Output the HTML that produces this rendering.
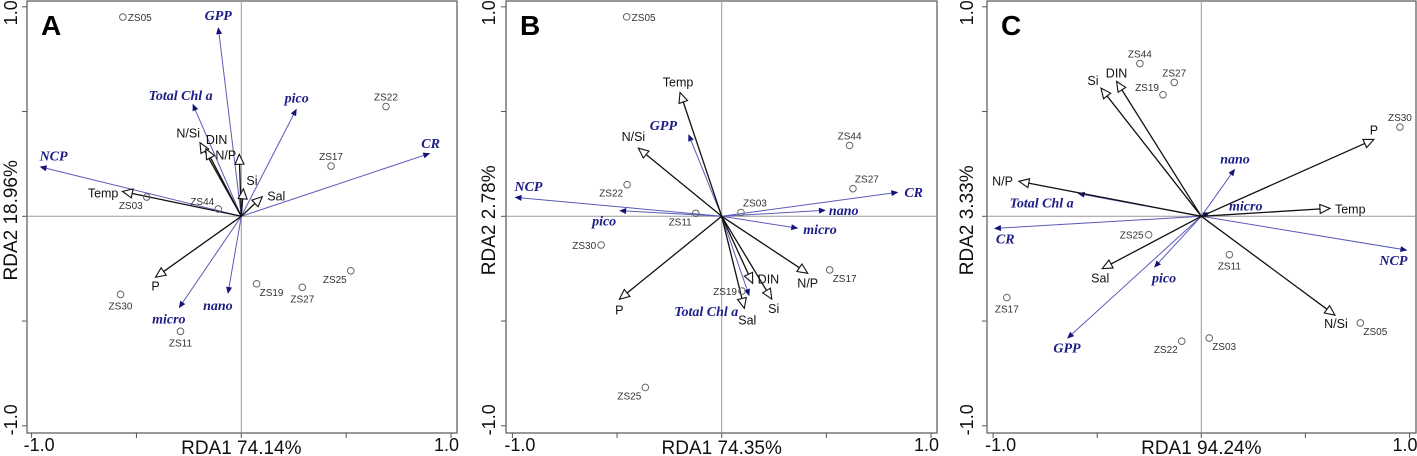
<!DOCTYPE html>
<html><head><meta charset="utf-8">
<style>
html,body{margin:0;padding:0;background:#fff;}
svg{display:block;font-family:"Liberation Sans",Arial,sans-serif;}
.site{font-size:10px;fill:#333;}
.env{font-size:12.5px;fill:#111;}
.sp{font-family:"Liberation Serif",serif;font-style:italic;font-weight:bold;font-size:14px;fill:#1c1c85;}
</style></head>
<body>
<svg id="chart" width="1417" height="456" viewBox="0 0 1417 456"></svg>
<script>
// ---------- Panel A data ----------
const aSiteNames = ["ZS05","ZS22","ZS17","ZS03","ZS44","ZS25","ZS19","ZS27","ZS30","ZS11"];
const aSiteX = [-0.565,0.690,0.428,-0.451,-0.110,0.522,0.073,0.291,-0.576,-0.290];
const aSiteY = [0.951,0.524,0.240,0.092,0.035,-0.260,-0.322,-0.339,-0.373,-0.549];
const aEnvNames = ["Temp","N/Si","DIN","N/P","Si","Sal","P"];
const aEnvX = [-0.567,-0.197,-0.169,-0.010,0.010,0.100,-0.409];
const aEnvY = [0.119,0.352,0.322,0.296,0.131,0.094,-0.291];
const aSpNames = ["GPP","Total Chl a","pico","NCP","CR","micro","nano"];
const aSpX = [-0.110,-0.232,0.264,-0.962,0.901,-0.298,-0.064];
const aSpY = [0.903,0.537,0.514,0.237,0.301,-0.439,-0.371];
// ---------- Panel B data ----------
const bSiteNames = ["ZS05","ZS44","ZS27","ZS22","ZS03","ZS11","ZS30","ZS17","ZS19","ZS25"];
const bSiteX = [-0.454,0.611,0.627,-0.452,0.092,-0.124,-0.576,0.516,0.097,-0.365];
const bSiteY = [0.952,0.338,0.132,0.151,0.018,0.014,-0.137,-0.256,-0.357,-0.817];
const bEnvNames = ["Temp","N/Si","P","Sal","Si","DIN","N/P"];
const bEnvX = [-0.199,-0.398,-0.489,0.108,0.239,0.148,0.411];
const bEnvY = [0.591,0.325,-0.396,-0.439,-0.395,-0.320,-0.272];
const bSpNames = ["GPP","NCP","pico","CR","nano","micro","Total Chl a"];
const bSpX = [-0.159,-0.990,-0.490,0.844,0.498,0.366,0.132];
const bSpY = [0.392,0.091,0.027,0.115,0.029,-0.057,-0.381];
// ---------- Panel C data ----------
const cSiteNames = ["ZS44","ZS27","ZS19","ZS30","ZS25","ZS11","ZS17","ZS05","ZS22","ZS03"];
const cSiteX = [-0.295,-0.130,-0.184,0.954,-0.253,0.135,-0.934,0.764,-0.094,0.038];
const cSiteY = [0.729,0.639,0.580,0.426,-0.088,-0.183,-0.388,-0.509,-0.596,-0.581];
const cEnvNames = ["Si","DIN","P","N/P","Temp","Sal","N/Si"];
const cEnvX = [-0.482,-0.407,0.829,-0.876,0.618,-0.476,0.642];
const cEnvY = [0.612,0.644,0.367,0.167,0.038,-0.250,-0.472];
const cSpNames = ["nano","Total Chl a","micro","CR","pico","GPP","NCP"];
const cSpX = [0.162,-0.594,0.042,-0.996,-0.227,-0.645,0.990];
const cSpY = [0.227,0.109,0.019,-0.058,-0.245,-0.584,-0.162];

const tickVals = [-1,-0.5,0,0.5,1];

// layout (label offsets relative to arrow tips: dx, dy, anchor)
const aSpLbl=[[0,-7,"m"],[-12,-4,"m"],[0,-6,"m"],[0,-6,"s"],[-9,-5,"s"],[-10,15,"m"],[-10,16,"m"]];
const aEnvLbl=[[-4,6,"e"],[0,-5,"e"],[0,-5,"s"],[-3,5,"e"],[3,-4,"s"],[5,4,"s"],[0,13,"m"]];
const bSpLbl=[[-25,-4,"m"],[0,-6,"s"],[-15,15,"m"],[6,5,"s"],[3,5,"s"],[5,6,"s"],[-11,20,"e"]];
const bEnvLbl=[[-2,-6,"m"],[-5,-7,"m"],[0,15,"m"],[3,16,"m"],[2,14,"m"],[5,0,"s"],[0,14,"m"]];
const cSpLbl=[[0,-5,"m"],[-36,14,"m"],[19,-2,"s"],[2,15,"s"],[10,15,"m"],[0,14,"m"],[0,15,"e"]];
const cEnvLbl=[[-8,-3,"m"],[0,-4,"m"],[0,-5,"m"],[-6,4,"e"],[5,5,"s"],[-2,14,"m"],[1,13,"m"]];

const panels = [
 {id:"a",letter:"A",xl:"RDA1 74.14%",yl:"RDA2 18.96%",fl:27,fr:457,cx:241.3,sx:209.7,ylx:14,
  sn:aSiteNames,sxv:aSiteX,syv:aSiteY,en:aEnvNames,ex:aEnvX,ey:aEnvY,pn:aSpNames,px:aSpX,py:aSpY,
  sl:aSpLbl,el:aEnvLbl,sside:["r","a","a","bl","al","bl","br","b","b","b"]},
 {id:"b",letter:"B",xl:"RDA1 74.35%",yl:"RDA2 2.78%",fl:506,fr:937,cx:721.7,sx:209.3,ylx:492,
  sn:bSiteNames,sxv:bSiteX,syv:bSiteY,en:bEnvNames,ex:bEnvX,ey:bEnvY,pn:bSpNames,px:bSpX,py:bSpY,
  sl:bSpLbl,el:bEnvLbl,sside:["r","a","ar","bl","ar","bl","l","br","l","bl"]},
 {id:"c",letter:"C",xl:"RDA1 94.24%",yl:"RDA2 3.33%",fl:987,fr:1416,cx:1201.3,sx:208.2,ylx:970,
  sn:cSiteNames,sxv:cSiteX,syv:cSiteY,en:cEnvNames,ex:cEnvX,ey:cEnvY,pn:cSpNames,px:cSpX,py:cSpY,
  sl:cSpLbl,el:cEnvLbl,sside:["a","a","al","a","l","b","b","br","bl","br"]}
];
const ANC={m:"middle",s:"start",e:"end"};
const CY=216.3, SY=209.5, FT=1, FB=433;
const NS="http://www.w3.org/2000/svg";
const svg=document.getElementById("chart");
function mk(tag,attrs,parent){const e=document.createElementNS(NS,tag);for(const k in attrs)e.setAttribute(k,attrs[k]);parent.appendChild(e);return e;}

panels.forEach(p=>{
  const X=v=>p.cx+v*p.sx, Y=v=>CY-v*SY;
  const g=mk("g",{},svg);
  
  
  const fr=mk("rect",{x:p.fl,y:FT,width:p.fr-p.fl,height:FB-FT,fill:"none",stroke:"#555","stroke-width":1.2},g);
  
  
  const z1=mk("line",{x1:X(0),x2:X(0),y1:FT,y2:FB,stroke:"#999","stroke-width":1},g);
  
  
  const z2=mk("line",{x1:p.fl,x2:p.fr,y1:Y(0),y2:Y(0),stroke:"#999","stroke-width":1},g);
  
  
  tickVals.forEach(t=>{
    const tx=mk("line",{x1:X(t),x2:X(t),y1:FB,y2:FB+5,stroke:"#555"},g);
    
    
    const ty=mk("line",{x1:p.fl,x2:p.fl-5,y1:Y(t),y2:Y(t),stroke:"#555"},g);
    
    
  });
  [[-1,"-1.0","start",-8],[1,"1.0","end",8]].forEach(([v,s,anc,d])=>{
    const t=mk("text",{x:X(v)+d,y:451,"font-size":18,fill:"#111","text-anchor":anc},g);t.textContent=s;
    
    
    const yt=mk("text",{x:0,y:0,"font-size":18,fill:"#111","text-anchor":"middle",transform:`translate(${p.ylx+3},${Y(v)+(v>0?6:-6)}) rotate(-90)`},g);yt.textContent=s;
    
    
  });
  const xl=mk("text",{x:X(0),y:454,"font-size":19,fill:"#111","text-anchor":"middle"},g);xl.textContent=p.xl;
  
  
  const yl=mk("text",{x:0,y:0,"font-size":19,fill:"#111","text-anchor":"middle",transform:`translate(${p.ylx+3},${CY+4}) rotate(-90)`},g);yl.textContent=p.yl;
  
  
  const lt=mk("text",{x:p.fl+14,y:35,"font-size":28,"font-weight":"bold",fill:"#000"},g);lt.textContent=p.letter;
  
  

  p.pn.forEach((n,i)=>{
    const x=X(p.px[i]),y=Y(p.py[i]),x0=X(0),y0=Y(0);
    const dx=x-x0,dy=y-y0,L=Math.hypot(dx,dy),ux=dx/L,uy=dy/L;
    const ln=mk("line",{x1:x0,y1:y0,x2:x-ux*5,y2:y-uy*5,stroke:"#5a5ab8","stroke-width":1},g);
    
    
    const hl=7,hw=3;
    const hd=mk("polygon",{points:`${x},${y} ${x-ux*hl-uy*hw},${y-uy*hl+ux*hw} ${x-ux*hl+uy*hw},${y-uy*hl-ux*hw}`,fill:"#141478"},g);
    
    
    const o=p.sl[i];
    const t=mk("text",{class:"sp",x:x+o[0],y:y+o[1],"text-anchor":ANC[o[2]]},g);t.textContent=n;
    
    
  });
  p.en.forEach((n,i)=>{
    const x=X(p.ex[i]),y=Y(p.ey[i]),x0=X(0),y0=Y(0);
    const dx=x-x0,dy=y-y0,L=Math.hypot(dx,dy),ux=dx/L,uy=dy/L;
    const ln=mk("line",{x1:x0,y1:y0,x2:x-ux*9,y2:y-uy*9,stroke:"#111","stroke-width":1.3},g);
    
    
    const hl=10,hw=4.5;
    const hd=mk("polygon",{points:`${x},${y} ${x-ux*hl-uy*hw},${y-uy*hl+ux*hw} ${x-ux*hl+uy*hw},${y-uy*hl-ux*hw}`,fill:"#fff",stroke:"#111","stroke-width":1.1},g);
    
    
    const o=p.el[i];
    const t=mk("text",{class:"env",x:x+o[0],y:y+o[1],"text-anchor":ANC[o[2]]},g);t.textContent=n;
    
    
  });
  p.sn.forEach((n,i)=>{
    const x=X(p.sxv[i]),y=Y(p.syv[i]);
    const c=mk("circle",{cx:x,cy:y,r:3.3,fill:"none",stroke:"#666","stroke-width":1},g);
    
    
    const s=p.sside[i];let tx=x,ty=y+4,anc="middle";
    if(s==="r"){tx=x+5;anc="start";}
    else if(s==="l"){tx=x-5;anc="end";}
    else if(s==="a"){ty=y-6;}
    else if(s==="b"){ty=y+15;}
    else if(s==="al"){tx=x-4;ty=y-4;anc="end";}
    else if(s==="ar"){tx=x+2;ty=y-6;anc="start";}
    else if(s==="bl"){tx=x-4;ty=y+12;anc="end";}
    else if(s==="br"){tx=x+3;ty=y+12;anc="start";}
    const t=mk("text",{class:"site",x:tx,y:ty,"text-anchor":anc},g);t.textContent=n;
    
    
  });
});
</script>
</body></html>
